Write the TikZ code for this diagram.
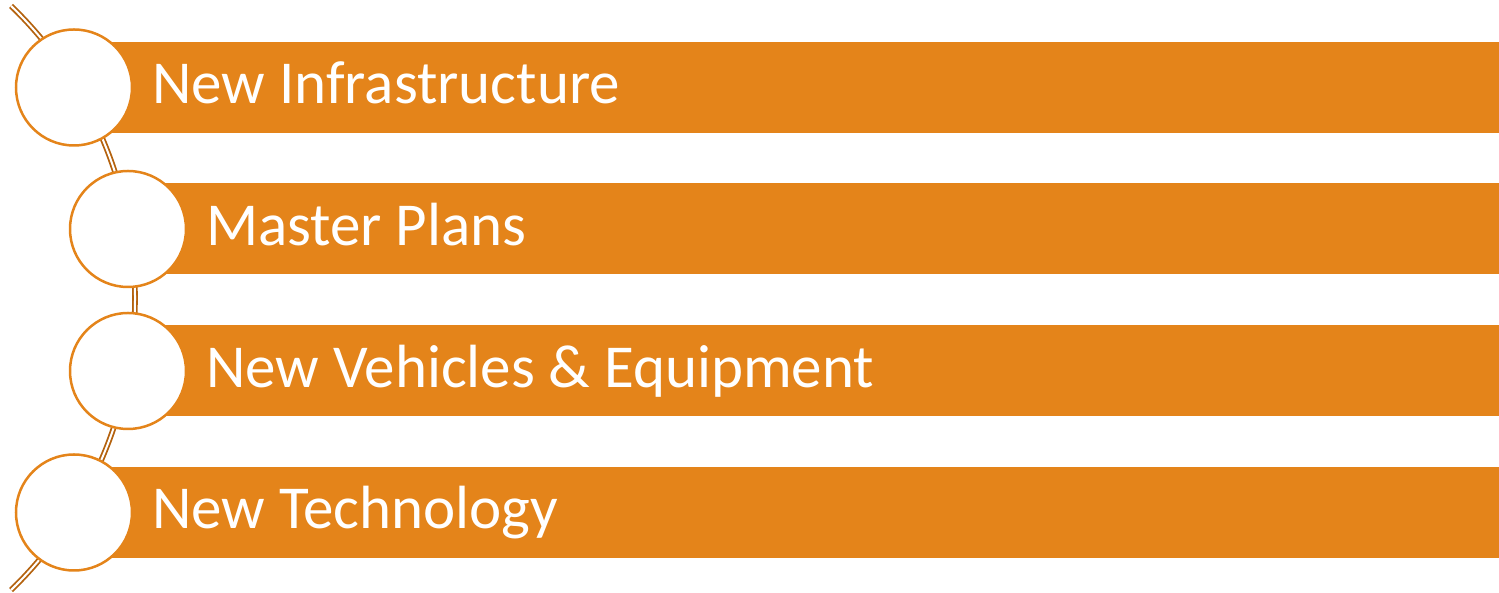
\documentclass[tikz,border=0pt]{standalone}
\usepackage{fontspec}
\setmainfont{Carlito}
\usetikzlibrary{positioning}
\definecolor{barorange}{HTML}{E4841A}
\definecolor{spinebrown}{HTML}{B4620E}
\tikzset{
	every node/.style={
		font=\fontsize{61}{63}\selectfont
	},
	bar/.style={
		shape=rectangle,
		fill=barorange,
		minimum height=91pt,
		minimum width=#1,
		inner sep=0pt,
		anchor=west
	},
	bar text/.style={
		text=white,
		inner sep=0pt
	},
	dot/.style={
		shape=circle,
		draw=barorange,
		line width=2.5pt,
		fill=white,
		minimum size=116pt,
		inner sep=0pt
	},
	spine/.style={
		draw=spinebrown,
		line width=1.8pt,
		double=white,
		double distance=2pt
	}
}

\begin{document}
\begin{tikzpicture}[x=1pt,y=1pt]
	\useasboundingbox (0,0) rectangle (1499,593);
	\coordinate (hub) at (-271,295);
	
	\draw[spine] (hub) ++(46:406pt) arc[start angle=46, end angle=-46, radius=406pt];
	
	\node[bar=1425pt] (bar1) at (74,505.5) {};
	\node[bar=1371pt] (bar2) at (128,364)  {};
	\node[bar=1371pt] (bar3) at (128,222)  {};
	\node[bar=1425pt] (bar4) at (74,80.5)  {};
	
	\node[dot] (c1) at (bar1.west) {};
	\node[dot] (c2) at (bar2.west) {};
	\node[dot] (c3) at (bar3.west) {};
	\node[dot] (c4) at (bar4.west) {};
	
	\node[bar text, right=78pt of bar1.west, anchor=base west, yshift=-16.5pt] (t1) {New Infrastructure};
	\node[bar text, right=78pt of bar2.west, anchor=base west, yshift=-16.5pt] (t2) {Master Plans};
	\node[bar text, right=78pt of bar3.west, anchor=base west, yshift=-16.5pt] (t3) {New Vehicles \& Equipment};
	\node[bar text, right=78pt of bar4.west, anchor=base west, yshift=-16.5pt] (t4) {New Technology};
\end{tikzpicture}
\end{document}
